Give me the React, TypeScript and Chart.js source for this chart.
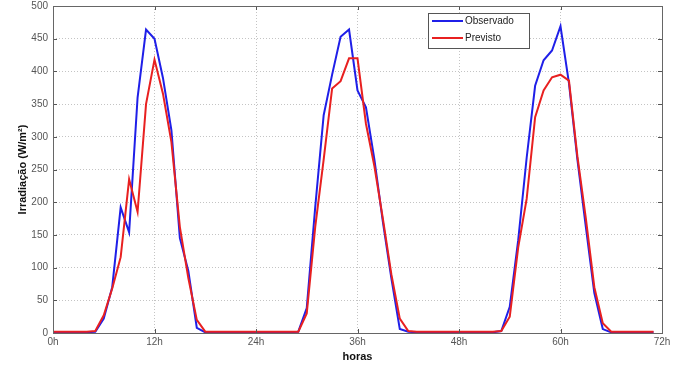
import React, { useEffect, useRef } from "react";
import { Chart, registerables } from "chart.js";

Chart.register(...registerables);

const hours = [
  0, 1, 2, 3, 4, 5, 6, 7, 8, 9, 10, 11, 12, 13, 14, 15, 16, 17, 18, 19, 20, 21, 22, 23,
  24, 25, 26, 27, 28, 29, 30, 31, 32, 33, 34, 35, 36, 37, 38, 39, 40, 41, 42, 43, 44, 45, 46, 47,
  48, 49, 50, 51, 52, 53, 54, 55, 56, 57, 58, 59, 60, 61, 62, 63, 64, 65, 66, 67, 68, 69, 70, 71,
];

const observado = [
  1, 1, 1, 1, 1, 2, 22, 70, 192, 154, 360, 464, 450, 390, 310, 145, 95, 8, 1, 1, 0, 1, 1, 1,
  1, 1, 1, 1, 1, 2, 38, 192, 333, 395, 453, 464, 371, 345, 265, 170, 84, 6, 2, 1, 1, 1, 1, 1,
  1, 1, 1, 1, 1, 3, 40, 142, 268, 378, 417, 432, 469, 382, 265, 162, 61, 6, 1, 1, 1, 1, 1, 1,
];

const previsto = [
  2, 2, 2, 2, 2, 3, 27, 68, 116, 235, 185, 350, 418, 366, 292, 162, 84, 20, 2, 2, 2, 2, 2, 2,
  2, 2, 2, 2, 2, 2, 30, 162, 265, 374, 385, 420, 420, 320, 255, 175, 90, 22, 3, 2, 2, 2, 2, 2,
  2, 2, 2, 2, 2, 3, 25, 131, 205, 330, 371, 391, 395, 386, 270, 175, 70, 15, 2, 2, 2, 2, 2, 2,
];

const seriesNames = ["Observado", "Previsto"];
const seriesColors = ["#1f1fe8", "#e82020"];
const xTickSuffix = "h";
const xTitle = "horas";
const yTitle = "Irradiação (W/m²)";

const FONT = "'Liberation Sans', Arial, sans-serif";

const framePlugin = {
  id: "frame",
  afterDraw(chart: any) {
    const { ctx, chartArea: a, scales } = chart;
    ctx.save();
    ctx.strokeStyle = "#555";
    ctx.lineWidth = 1;
    const tl = 4;
    scales.y.ticks.forEach((t: any) => {
      const y = Math.round(scales.y.getPixelForValue(t.value)) + 0.5;
      ctx.beginPath();
      ctx.moveTo(a.left, y);
      ctx.lineTo(a.left + tl, y);
      ctx.moveTo(a.right, y);
      ctx.lineTo(a.right - tl, y);
      ctx.stroke();
    });
    scales.x.ticks.forEach((t: any) => {
      const x = Math.round(scales.x.getPixelForValue(t.value)) + 0.5;
      ctx.beginPath();
      ctx.moveTo(x, a.bottom);
      ctx.lineTo(x, a.bottom - tl);
      ctx.moveTo(x, a.top);
      ctx.lineTo(x, a.top + tl);
      ctx.stroke();
    });
    ctx.strokeStyle = "#666";
    ctx.strokeRect(Math.round(a.left) + 0.5, Math.round(a.top) + 0.5, Math.round(a.right - a.left), Math.round(a.bottom - a.top));
    const bx = 428, by = 13, bw = 101, bh = 35;
    ctx.fillStyle = "#fff";
    ctx.fillRect(bx, by, bw, bh);
    ctx.strokeStyle = "#555";
    ctx.strokeRect(bx + 0.5, by + 0.5, bw, bh);
    ctx.font = "10px " + FONT;
    ctx.textBaseline = "middle";
    ctx.textAlign = "left";
    seriesNames.forEach((n, i) => {
      const y = by + 8 + i * 17;
      ctx.strokeStyle = seriesColors[i];
      ctx.lineWidth = 2;
      ctx.beginPath();
      ctx.moveTo(bx + 4, y);
      ctx.lineTo(bx + 35, y);
      ctx.stroke();
      ctx.fillStyle = "#222";
      ctx.fillText(n, bx + 37, y);
    });
    ctx.restore();
  },
};

export default function App() {
  const ref = useRef<HTMLCanvasElement>(null);
  useEffect(() => {
    if (!ref.current) return;
    const mk = (vals: number[]) => vals.map((v, i) => ({ x: hours[i], y: v }));
    const chart = new Chart(ref.current, {
      type: "line",
      data: {
        datasets: [
          {
            label: seriesNames[0],
            data: mk(observado),
            borderColor: seriesColors[0],
            borderWidth: 2,
            pointRadius: 0,
            tension: 0,
            order: 2,
          },
          {
            label: seriesNames[1],
            data: mk(previsto),
            borderColor: seriesColors[1],
            borderWidth: 2,
            pointRadius: 0,
            tension: 0,
            order: 1,
          },
        ],
      },
      options: {
        animation: false,
        responsive: false,
        layout: { padding: { top: 0, right: 25, left: 0, bottom: 0 } },
        plugins: { legend: { display: false }, tooltip: { enabled: false } },
        scales: {
          x: {
            type: "linear",
            min: 0,
            max: 72,
            afterFit: (s: any) => {
              s.height = 37;
            },
            ticks: {
              stepSize: 12,
              callback: (v: any) => v + xTickSuffix,
              color: "#555",
              font: { family: FONT, size: 10 },
              padding: 3,
              maxRotation: 0,
            },
            grid: {
              drawTicks: false,
              color: "#c4c4c4",
              lineWidth: 1,
            },
            border: { display: false, dash: [1, 2] },
            title: {
              display: true,
              text: xTitle,
              color: "#111",
              font: { family: FONT, size: 11, weight: "bold" },
              padding: { top: 0, bottom: 6 },
            },
          },
          y: {
            min: 0,
            max: 500,
            afterFit: (s: any) => {
              s.width = 53;
              s.paddingTop = 6;
              s.paddingBottom = 0;
            },
            ticks: {
              stepSize: 50,
              color: "#555",
              font: { family: FONT, size: 10 },
              padding: 5,
            },
            grid: {
              drawTicks: false,
              color: "#c4c4c4",
              lineWidth: 1,
            },
            border: { display: false, dash: [1, 2] },
            title: {
              display: true,
              text: yTitle,
              color: "#111",
              font: { family: FONT, size: 11, weight: "bold" },
              padding: { top: 16, bottom: 0 },
            },
          },
        },
      },
      plugins: [framePlugin],
    });
    return () => chart.destroy();
  }, []);
  return (
    <div style={{ position: "fixed", left: 0, top: 0, width: 687, height: 370, background: "#fff" }}>
      <canvas ref={ref} width={687} height={370} style={{ width: 687, height: 370 }} />
    </div>
  );
}
